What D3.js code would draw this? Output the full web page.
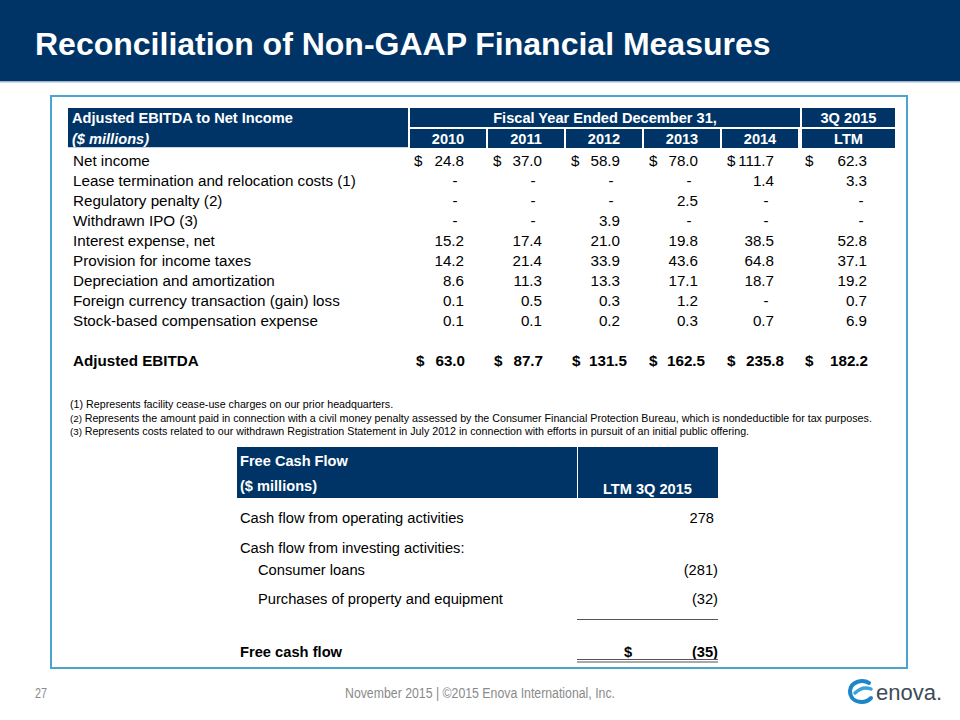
<!DOCTYPE html>
<html><head><meta charset="utf-8">
<script src="https://cdn.jsdelivr.net/npm/d3@7"></script>
<style>
html,body{margin:0;padding:0;background:#fff;}
svg{display:block;font-family:"Liberation Sans",Arial,sans-serif;}
</style></head>
<body><svg id="c" width="960" height="720"></svg>
<script>
// ---------- DATA ----------
const title = "Reconciliation of Non-GAAP Financial Measures";
const columns = ["2010","2011","2012","2013","2014","LTM"];
const rowLabels = [
  "Net income",
  "Lease termination and relocation costs (1)",
  "Regulatory penalty (2)",
  "Withdrawn IPO (3)",
  "Interest expense, net",
  "Provision for income taxes",
  "Depreciation and amortization",
  "Foreign currency transaction (gain) loss",
  "Stock-based compensation expense"
];
const fy2010 = [24.8, null, null, null, 15.2, 14.2, 8.6, 0.1, 0.1];
const fy2011 = [37.0, null, null, null, 17.4, 21.4, 11.3, 0.5, 0.1];
const fy2012 = [58.9, null, null, 3.9, 21.0, 33.9, 13.3, 0.3, 0.2];
const fy2013 = [78.0, null, 2.5, null, 19.8, 43.6, 17.1, 1.2, 0.3];
const fy2014 = [111.7, 1.4, null, null, 38.5, 64.8, 18.7, null, 0.7];
const ltm3q2015 = [62.3, 3.3, null, null, 52.8, 37.1, 19.2, 0.7, 6.9];
const adjustedEbitda = [63.0, 87.7, 131.5, 162.5, 235.8, 182.2];
const footnotes = [
  ["(1)", "Represents facility cease-use charges on our prior headquarters."],
  ["(2)", "Represents the amount paid in connection with a civil money penalty assessed by the Consumer Financial Protection Bureau, which is nondeductible for tax purposes."],
  ["(3)", "Represents costs related to our withdrawn Registration Statement in July 2012 in connection with efforts in pursuit of an initial public offering."]
];
const fcfLabels = ["Cash flow from operating activities","Cash flow from investing activities:","Consumer loans","Purchases of property and equipment"];
const fcfValues = [278, null, -281, -32];
const fcfIndent = [false, false, true, true];
const freeCashFlow = -35;

// ---------- SETUP ----------
const svg = d3.select("#c");
const NAVY = "#003466";
const BORDER = "#4aa6cf";
const FONT = '"Liberation Sans",Arial,sans-serif';
const yearCols = [fy2010, fy2011, fy2012, fy2013, fy2014, ltm3q2015];
const BODY_FS = 15.2, HEAD_FS = 14.6;

// Header band
svg.append("rect").attr("x",0).attr("y",0).attr("width",960).attr("height",82).attr("fill",NAVY);
svg.append("rect").attr("x",0).attr("y",81).attr("width",960).attr("height",1.5).attr("fill","#9fb7cf");
svg.append("text").attr("x",35).attr("y",55).attr("fill","#fff")
  .attr("font-size",32).attr("font-weight","bold").text(title);

// Outer border
svg.append("rect").attr("x",51).attr("y",96).attr("width",856).attr("height",572)
  .attr("fill","none").attr("stroke",BORDER).attr("stroke-width",2);

// ---------- TABLE 1 ----------
const x = d3.scaleBand().domain(columns).range([410, 878]);
const rowY = d3.scaleLinear().domain([0, 1]).range([161, 181]); // 20px row pitch
const ltmW = 93;

// header blocks
svg.append("rect").attr("x",68).attr("y",108).attr("width",340).attr("height",40).attr("fill",NAVY);
svg.append("rect").attr("x",410).attr("y",108).attr("width",x("LTM")-410).attr("height",19).attr("fill",NAVY);
svg.append("rect").attr("x",x("LTM")+2).attr("y",108).attr("width",ltmW).attr("height",19).attr("fill",NAVY);
columns.forEach(c=>{
  const x0 = c==="LTM" ? x(c)+2 : x(c);
  const w = c==="LTM" ? ltmW : x.bandwidth()-2;
  svg.append("rect").attr("x",x0).attr("y",129).attr("width",w).attr("height",19).attr("fill",NAVY);
});
svg.append("line").attr("x1",68).attr("x2",408).attr("y1",147.5).attr("y2",147.5).attr("stroke","#c8d4e0").attr("stroke-width",1);

svg.append("text").attr("x",72).attr("y",123).attr("fill","#fff").attr("font-size",HEAD_FS).attr("font-weight","bold").text("Adjusted EBITDA to Net Income");
svg.append("text").attr("x",72).attr("y",144).attr("fill","#fff").attr("font-size",HEAD_FS).attr("font-weight","bold").attr("font-style","italic").text("($ millions)");
svg.append("text").attr("x",(410+x("LTM"))/2).attr("y",123).attr("fill","#fff").attr("font-size",HEAD_FS).attr("font-weight","bold").attr("text-anchor","middle").text("Fiscal Year Ended December 31,");
svg.append("text").attr("x",x("LTM")+2+ltmW/2).attr("y",123).attr("fill","#fff").attr("font-size",HEAD_FS).attr("font-weight","bold").attr("text-anchor","middle").text("3Q 2015");
columns.forEach(c=>{
  const x0 = c==="LTM" ? x(c)+2 : x(c);
  const w = c==="LTM" ? ltmW : x.bandwidth()-2;
  svg.append("text").attr("x",x0+w/2).attr("y",144).attr("fill","#fff").attr("font-size",HEAD_FS).attr("font-weight","bold").attr("text-anchor","middle").text(c);
});

// body
const body = svg.append("g").attr("font-size",BODY_FS).attr("fill","#000");
rowLabels.forEach((lab,i)=>{
  body.append("text").attr("x",73).attr("y",rowY(i)+5).text(lab);
});
const normRightOff = {"2010":54,"2011":54,"2012":54,"2013":54,"2014":52,"LTM":67};
const dashOff = {"2010":45,"2011":45,"2012":45,"2013":45,"2014":44,"LTM":61};
const dollarOff = {"2010":4,"2011":5,"2012":5,"2013":5,"2014":5,"LTM":5};
const boldRightOff = {"2010":55,"2011":55,"2012":61,"2013":61,"2014":62,"LTM":68};
const boldDollarOff = {"2010":6,"2011":6,"2012":6,"2013":5,"2014":5,"LTM":5};
columns.forEach((c,ci)=>{
  const vals = yearCols[ci];
  vals.forEach((v,i)=>{
    const y = rowY(i)+5;
    if(v===null){
      body.append("text").attr("x",x(c)+dashOff[c]).attr("y",y).attr("text-anchor","middle").text("-");
    } else {
      body.append("text").attr("x",x(c)+normRightOff[c]).attr("y",y).attr("text-anchor","end").text(d3.format(".1f")(v));
    }
    if(i===0){
      body.append("text").attr("x",x(c)+dollarOff[c]).attr("y",y).text("$");
    }
  });
  // Adjusted EBITDA total
  const yT = rowY(10)+5;
  body.append("text").attr("x",x(c)+boldDollarOff[c]).attr("y",yT).attr("font-weight","bold").text("$");
  body.append("text").attr("x",x(c)+boldRightOff[c]).attr("y",yT).attr("font-weight","bold").attr("text-anchor","end").text(d3.format(".1f")(adjustedEbitda[ci]));
});
body.append("text").attr("x",73).attr("y",rowY(10)+5).attr("font-weight","bold").text("Adjusted EBITDA");

// footnotes
const fn = svg.append("g").attr("font-size",10.7).attr("fill","#000");
footnotes.forEach((f,i)=>{
  const t = fn.append("text").attr("x",70).attr("y",408+i*13.5);
  t.append("tspan").attr("font-size", i===0?10.7:9.8).text(f[0]+" ");
  t.append("tspan").text(f[1]);
});

// ---------- TABLE 2 ----------
const fx0 = 237, fxDiv = 577, fx1 = 718;
svg.append("rect").attr("x",fx0).attr("y",447).attr("width",fxDiv-fx0).attr("height",51).attr("fill",NAVY);
svg.append("rect").attr("x",fxDiv+1).attr("y",447).attr("width",fx1-fxDiv-1).attr("height",51).attr("fill",NAVY);
svg.append("text").attr("x",240).attr("y",466).attr("fill","#fff").attr("font-size",14.6).attr("font-weight","bold").text("Free Cash Flow");
svg.append("text").attr("x",240).attr("y",491).attr("fill","#fff").attr("font-size",14.6).attr("font-weight","bold").text("($ millions)");
svg.append("text").attr("x",(fxDiv+fx1)/2).attr("y",494).attr("fill","#fff").attr("font-size",14.6).attr("font-weight","bold").attr("text-anchor","middle").text("LTM 3Q 2015");

const fcfY = [523, 553, 575, 604];
const fmtAcct = v => v<0 ? "("+d3.format("d")(-v)+")" : d3.format("d")(v);
const t2 = svg.append("g").attr("font-size",14.7).attr("fill","#000");
fcfLabels.forEach((lab,i)=>{
  t2.append("text").attr("x", fcfIndent[i]?258:240).attr("y",fcfY[i]).text(lab);
  if(fcfValues[i]!==null){
    t2.append("text").attr("x", fcfValues[i]<0 ? 718 : 714).attr("y",fcfY[i]).attr("text-anchor","end").text(fmtAcct(fcfValues[i]));
  }
});
svg.append("line").attr("x1",fxDiv).attr("x2",fx1).attr("y1",619.5).attr("y2",619.5).attr("stroke","#555").attr("stroke-width",1);
t2.append("text").attr("x",240).attr("y",657).attr("font-weight","bold").text("Free cash flow");
t2.append("text").attr("x",624).attr("y",657).attr("font-weight","bold").text("$");
t2.append("text").attr("x",718).attr("y",657).attr("font-weight","bold").attr("text-anchor","end").text(fmtAcct(freeCashFlow));
svg.append("line").attr("x1",fxDiv).attr("x2",fx1).attr("y1",659.5).attr("y2",659.5).attr("stroke","#555").attr("stroke-width",1);
svg.append("line").attr("x1",fxDiv).attr("x2",fx1).attr("y1",662).attr("y2",662).attr("stroke","#555").attr("stroke-width",1);

// ---------- FOOTER ----------
svg.append("text").attr("x",35).attr("y",698).attr("font-size",14).attr("fill","#8a8a8a")
  .attr("textLength",12).attr("lengthAdjust","spacingAndGlyphs").text("27");
svg.append("text").attr("x",345).attr("y",698).attr("font-size",14).attr("fill","#8a8a8a")
  .attr("textLength",270).attr("lengthAdjust","spacingAndGlyphs")
  .text("November 2015  |  \u00A92015 Enova International, Inc.");
// logo
const logo = svg.append("g").attr("transform","translate(860,692)");
logo.append("path").attr("d","M 9 -9 C 3 -13, -9 -11, -10 -1 C -10 6, -5 10, 2 10 C 6 10, 9 8, 11 6")
  .attr("fill","none").attr("stroke","#1e86c6").attr("stroke-width",4).attr("stroke-linecap","round");
logo.append("path").attr("d","M -5 1 C 0 -4, 6 -5, 11 -3").attr("fill","none").attr("stroke","#3aa3dc").attr("stroke-width",3.5).attr("stroke-linecap","round");
svg.append("text").attr("x",876).attr("y",700).attr("font-size",22).attr("fill","#3d4a57").attr("font-family",FONT).text("enova.");
</script></body></html>
